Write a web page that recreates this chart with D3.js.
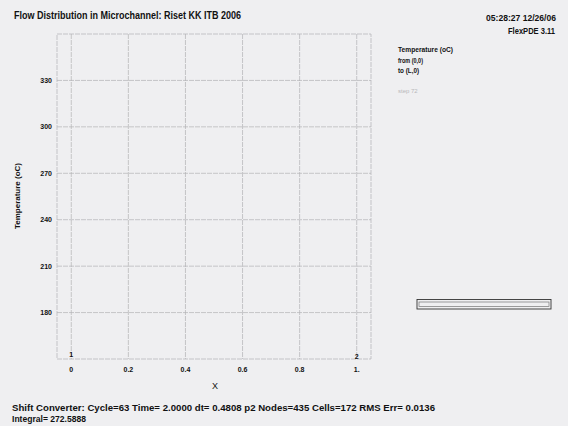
<!DOCTYPE html>
<html>
<head>
<meta charset="utf-8">
<script src="https://cdn.jsdelivr.net/npm/d3@7"></script>
<style>
  html, body { margin: 0; padding: 0; background: #efeff1; }
  svg { display: block; }
  text { font-family: "Liberation Sans Narrow", "Liberation Sans", Arial, sans-serif; fill: #111; }
</style>
</head>
<body>
<svg id="chart" width="568" height="426"></svg>
<script>
// Elevation plot: Temperature (oC) along the channel path from (0,0) to (L,0)
const xTicks = [0, 0.2, 0.4, 0.6, 0.8, 1];
const xTickLabels = ["0", "0.2", "0.4", "0.6", "0.8", "1."];
const yTicks = [180, 210, 240, 270, 300, 330];
const xDomain = [-0.05, 1.05];
const yDomain = [150, 360];
// path end markers (point number, x position)
const pathMarkers = [[1, 0], [2, 1]];
const titleText = "Flow  Distribution in Microchannel: Riset KK ITB 2006";
const stampTime = "05:28:27 12/26/06";
const stampProg = "FlexPDE 3.11";
const legendLines = ["Temperature (oC)", "from (0,0)", "to (L,0)"];
const statusLine = "Shift Converter:  Cycle=63  Time= 2.0000  dt= 0.4808  p2  Nodes=435  Cells=172  RMS Err= 0.0136";
const integralLine = "Integral=  272.5888";

const svg = d3.select("#chart");

const pLeft = 57, pRight = 371, pTop = 34, pBottom = 359;
const x = d3.scaleLinear().domain(xDomain).range([pLeft, pRight]);
const y = d3.scaleLinear().domain(yDomain).range([pBottom, pTop]);

const gridStyle = sel => sel.attr("stroke", "#b1b1b5").attr("stroke-width", 0.7)
  .attr("stroke-dasharray", "5,1").attr("fill", "none");

// frame
svg.append("rect").attr("x", pLeft).attr("y", pTop)
  .attr("width", pRight - pLeft).attr("height", pBottom - pTop).call(gridStyle);

// grid
svg.append("g").selectAll("line").data(xTicks).join("line")
  .attr("x1", d => x(d)).attr("x2", d => x(d)).attr("y1", pTop).attr("y2", pBottom).call(gridStyle);
svg.append("g").selectAll("line").data(yTicks).join("line")
  .attr("x1", pLeft).attr("x2", pRight).attr("y1", d => y(d)).attr("y2", d => y(d)).call(gridStyle);

// y tick labels
svg.append("g").selectAll("text").data(yTicks).join("text")
  .attr("x", 52).attr("y", d => y(d) + 2.5).attr("text-anchor", "end")
  .style("font-size", "7px").style("font-weight", "bold").text(d => d);

// x tick labels
svg.append("g").selectAll("text").data(xTicks).join("text")
  .attr("x", d => x(d)).attr("y", 372).attr("text-anchor", "middle")
  .style("font-size", "7px").style("font-weight", "bold")
  .text((d, i) => xTickLabels[i]);

// path end markers
svg.append("g").selectAll("text").data(pathMarkers).join("text")
  .attr("x", d => x(d[1])).attr("y", (d, i) => i === 0 ? 357 : 359).attr("text-anchor", "middle")
  .style("font-size", "7px").style("font-weight", "bold").text(d => d[0]);

// axis titles
svg.append("text").attr("x", 215).attr("y", 389).attr("text-anchor", "middle")
  .style("font-size", "9px").text("X");
svg.append("text").attr("transform", "translate(20,196) rotate(-90)").attr("text-anchor", "middle")
  .style("font-size", "8px").style("font-weight", "bold").text("Temperature (oC)");

// header
svg.append("text").attr("x", 14).attr("y", 19).attr("textLength", 227).attr("lengthAdjust", "spacingAndGlyphs")
  .style("font-size", "10px").style("font-weight", "bold").text(titleText);
svg.append("text").attr("x", 556).attr("y", 21).attr("text-anchor", "end")
  .attr("textLength", 70).attr("lengthAdjust", "spacingAndGlyphs")
  .style("font-size", "9.5px").style("font-weight", "bold").text(stampTime);
svg.append("text").attr("x", 555).attr("y", 34).attr("text-anchor", "end")
  .attr("textLength", 47).attr("lengthAdjust", "spacingAndGlyphs")
  .style("font-size", "9.5px").style("font-weight", "bold").text(stampProg);

// legend block
const legW = [55, 25, 21];
legendLines.forEach((t, i) => {
  svg.append("text").attr("x", 398).attr("y", 52 + i * 10.5)
    .attr("textLength", legW[i]).attr("lengthAdjust", "spacingAndGlyphs")
    .style("font-size", "7px").style("font-weight", "bold").text(t);
});
svg.append("text").attr("x", 398).attr("y", 93).style("font-size", "6px")
  .style("fill", "#b8b8bb").text("step 72");

// domain outline
svg.append("rect").attr("x", 417).attr("y", 299.5).attr("width", 134).attr("height", 9.5)
  .attr("fill", "none").attr("stroke", "#333").attr("stroke-width", 0.9);
svg.append("rect").attr("x", 419).attr("y", 302).attr("width", 130).attr("height", 4.5)
  .attr("fill", "none").attr("stroke", "#777").attr("stroke-width", 0.7);

// footer status
svg.append("text").attr("x", 12).attr("y", 411).attr("textLength", 423).attr("lengthAdjust", "spacingAndGlyphs")
  .style("font-size", "8.5px").style("font-weight", "bold").text(statusLine);
svg.append("text").attr("x", 12).attr("y", 422).attr("textLength", 74).attr("lengthAdjust", "spacingAndGlyphs")
  .style("font-size", "8.5px").style("font-weight", "bold").text(integralLine);
</script>
</body>
</html>
